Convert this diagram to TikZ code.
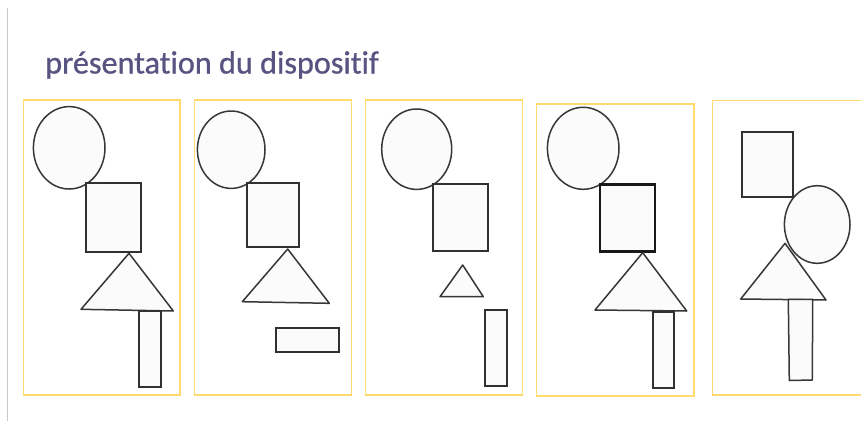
\documentclass[tikz,border=0pt]{standalone}
\usepackage{fontspec}
\setmainfont{Carlito}[Ligatures=NoCommon]
\newfontfamily\titlefont{Carlito}[Ligatures=NoCommon, FakeBold=0.8]
\definecolor{panelyellow}{RGB}{255,218,110}
\definecolor{titlecol}{RGB}{88,84,130}
\definecolor{shapeline}{RGB}{55,55,55}
\definecolor{shapefill}{RGB}{251,251,251}
\definecolor{rulegray}{RGB}{200,200,200}
\begin{document}
\begin{tikzpicture}[x=1pt,y=-1pt,
  panel/.style={draw=panelyellow, line width=1.4pt},
  shp/.style={draw=shapeline, fill=shapefill, line width=1.5pt, line join=round},
  boxshp/.style={draw=shapeline!90!black, fill=shapefill, line width=1.9pt},
  heavybox/.style={draw=black!90, fill=shapefill, line width=2.5pt}]
\useasboundingbox (0,0) rectangle (861,421);
\clip (0,0) rectangle (861,421);
\fill[white] (0,0) rectangle (861,421);
% left rule
\draw[rulegray, line width=1.6pt] (7.5,8) -- (7.5,421);
% title
\node[anchor=base west, inner sep=0pt, text=titlecol, font=\titlefont\fontsize{32.2}{32.2}\selectfont] (title) at (45,73.5) {présentation du dispositif};
% panels
\draw[panel] (23.3,100) rectangle (180,395);
\draw[panel] (194.3,100) rectangle (351.7,395);
\draw[panel] (365.7,100) rectangle (522.7,395);
\draw[panel] (536.7,104) rectangle (694,396);
\draw[panel] (712.7,100.5) rectangle (880,395);
% panel 1
\draw[shp] (69.2,147.8) ellipse [x radius=35.8, y radius=41.2];
\draw[boxshp] (86,183.3) rectangle (140.7,251.7);
\draw[shp] (129,253.3) -- (81,309.3) -- (173.3,311) -- cycle;
\draw[boxshp] (139.3,310.7) rectangle (161,387.3);
% panel 2
\draw[shp] (231.2,149.7) ellipse [x radius=33.8, y radius=38.7];
\draw[boxshp] (247.3,183.3) rectangle (299.3,246.7);
\draw[shp] (287.7,249) -- (242.3,301.7) -- (329.3,303.3) -- cycle;
\draw[boxshp] (275.7,328.3) rectangle (339.3,351.7);
% panel 3
\draw[shp] (416.7,149.2) ellipse [x radius=35, y radius=40.2];
\draw[boxshp] (433.3,184.3) rectangle (487.7,251);
\draw[shp] (462.7,265) -- (440,296.7) -- (483.3,296.7) -- cycle;
\draw[boxshp] (485,310) rectangle (506.7,386);
% panel 4
\draw[shp] (583.2,148.3) ellipse [x radius=35.8, y radius=41];
\draw[heavybox] (600,184.3) rectangle (655,251.7);
\draw[shp] (642.7,252.7) -- (595,310) -- (686.7,311) -- cycle;
\draw[boxshp] (652.7,311.7) rectangle (674.3,387.7);
% panel 5
\draw[boxshp] (742.3,132.3) rectangle (792.7,197.3);
\fill[shapefill] (817.2,224.5) ellipse [x radius=32.8, y radius=38.8];
\draw[shp] (785,243.3) -- (740.7,299) -- (826,300) -- cycle;
\draw[shp, fill=none] (817.2,224.5) ellipse [x radius=32.8, y radius=38.8];
\draw[shp] (788.3,299.3) -- (812.7,299.3) -- (812.3,380) -- (789.3,380.5) -- cycle;
\end{tikzpicture}
\end{document}
